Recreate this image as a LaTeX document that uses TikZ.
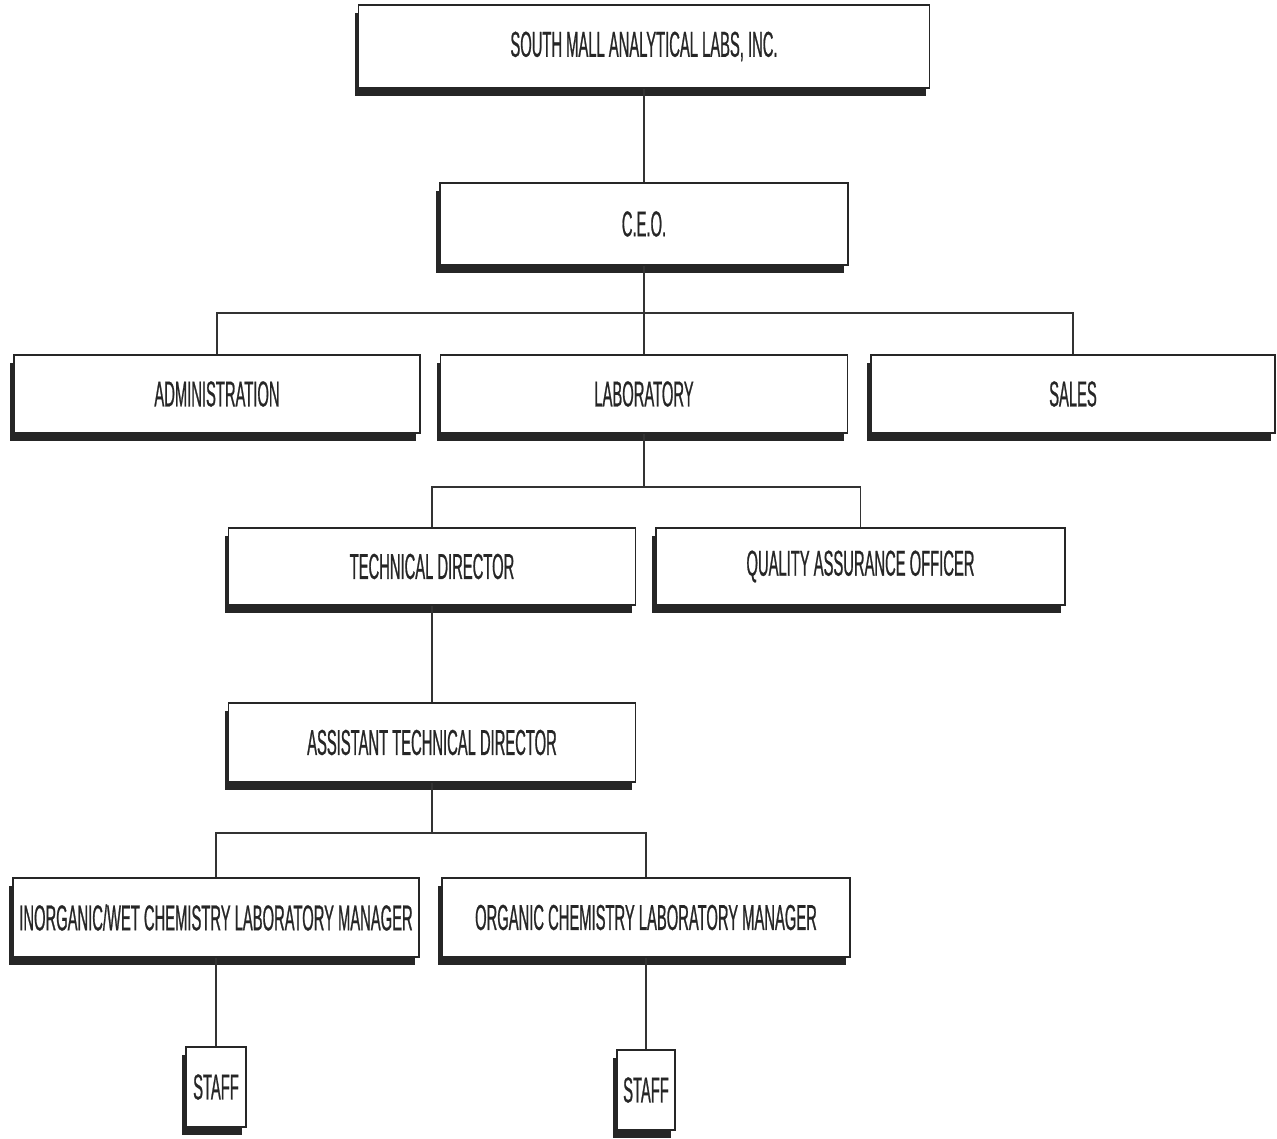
\documentclass[tikz,border=0pt]{standalone}
\usepackage{fontspec}
\newfontfamily\condfont[FakeStretch=0.41,FakeBold=0.6]{Liberation Sans}
\usetikzlibrary{shadows}
\begin{document}
\begin{tikzpicture}[x=1pt,y=-1pt,
  orgbox/.style={draw=black!85, fill=white, line width=1.6pt, inner sep=0pt,
    font=\condfont\fontsize{36}{38}\selectfont, text=black!85,
    drop shadow={shadow xshift=-4pt, shadow yshift=-8pt, fill=black!85, opacity=1}},
  link/.style={draw=black!80, line width=1.4pt}]
\useasboundingbox (0,0) rectangle (1277,1139);
\node[orgbox, minimum width=571pt, minimum height=83pt] (top) at (644,46.5) {SOUTH MALL ANALYTICAL LABS, INC.};
\node[orgbox, minimum width=408pt, minimum height=82pt] (ceo) at (644,224) {C.E.O.};
\node[orgbox, minimum width=406pt, minimum height=78pt] (admin) at (217,394) {ADMINISTRATION};
\node[orgbox, minimum width=407pt, minimum height=78pt] (lab) at (644,394) {LABORATORY};
\node[orgbox, minimum width=404pt, minimum height=78pt] (sales) at (1073,394) {SALES};
\node[orgbox, minimum width=407pt, minimum height=77pt] (td) at (432,566.5) {TECHNICAL DIRECTOR};
\node[orgbox, minimum width=409pt, minimum height=77pt] (qa) at (860.5,566.5) {QUALITY ASSURANCE OFFICER};
\node[orgbox, minimum width=407pt, minimum height=79pt] (atd) at (432,742.5) {ASSISTANT TECHNICAL DIRECTOR};
\node[orgbox, minimum width=406pt, minimum height=79pt] (inorg) at (216,917.5) {INORGANIC/WET CHEMISTRY LABORATORY MANAGER};
\node[orgbox, minimum width=408pt, minimum height=79pt] (org) at (646,917.5) {ORGANIC CHEMISTRY LABORATORY MANAGER};
\node[orgbox, minimum width=60pt, minimum height=80pt] (staffa) at (216,1087) {STAFF};
\node[orgbox, minimum width=58pt, minimum height=80pt] (staffb) at (646,1090) {STAFF};
\coordinate (j1) at (644,313);
\coordinate (j2) at (644,487);
\coordinate (j3) at (432,833);
\draw[link] (top.south) -- (ceo.north);
\draw[link] (ceo.south) -- (j1);
\draw[link] (j1) -| (admin.north);
\draw[link] (j1) -| (sales.north);
\draw[link] (j1) -- (lab.north);
\draw[link] (lab.south) -- (j2);
\draw[link] (j2) -| (td.north);
\draw[link] (j2) -| (qa.north);
\draw[link] (td.south) -- (atd.north);
\draw[link] (atd.south) -- (j3);
\draw[link] (j3) -| (inorg.north);
\draw[link] (j3) -| (org.north);
\draw[link] (inorg.south) -- (staffa.north);
\draw[link] (org.south) -- (staffb.north);
\end{tikzpicture}
\end{document}
